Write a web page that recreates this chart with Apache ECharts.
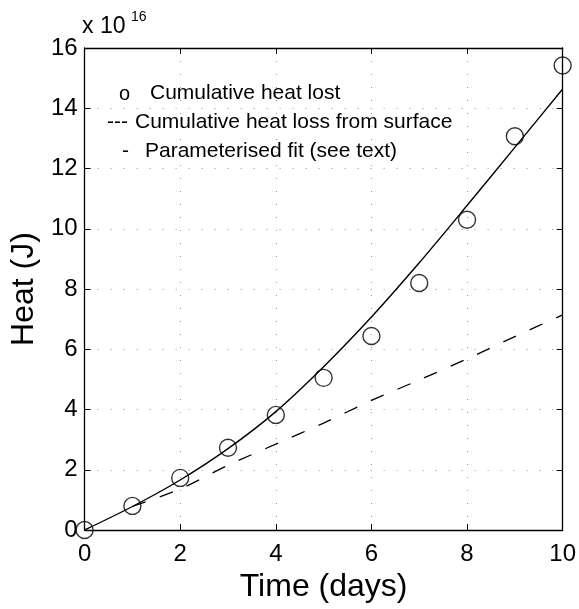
<!DOCTYPE html>
<html>
<head>
<meta charset="utf-8">
<script src="https://cdn.jsdelivr.net/npm/echarts@6/dist/echarts.min.js"></script>
<style>html,body{margin:0;padding:0;background:#fff;}#c{width:579px;height:609px;}</style>
</head>
<body>
<div id="c"></div>
<script>
// Data (heat in units of 1e16 J)
var days = [0, 1, 2, 3, 4, 5, 6, 7, 8, 9, 10];
var heatLost = [0.0, 0.8, 1.73, 2.73, 3.82, 5.05, 6.44, 8.2, 10.3, 13.07, 15.42];
var fitDays = [0, 1, 2, 3, 4, 5, 6, 7, 8, 9, 10];
var fitValues = [0.0, 0.78, 1.66, 2.7, 3.93, 5.42, 7.07, 8.87, 10.77, 12.7, 14.64];
var surfDays = [1, 2, 3, 4, 5, 6, 7, 8, 9, 10];
var surfValues = [0.78, 1.36, 2.15, 2.85, 3.55, 4.3, 4.98, 5.68, 6.42, 7.14];
var xTicks = [0, 2, 4, 6, 8, 10];
var yTicks = [0, 2, 4, 6, 8, 10, 12, 14, 16];
var legendMarks = ['o', '---', '-'];
var legendTexts = ['Cumulative heat lost', 'Cumulative heat loss from surface', 'Parameterised fit (see text)'];

function pairs(xs, ys) { return xs.map(function (x, i) { return [x, ys[i]]; }); }

var FONT = 'Liberation Sans, Arial, Helvetica, sans-serif';
var chart = echarts.init(document.getElementById('c'), null, { renderer: 'canvas' });
var grid = { left: 82, right: 13, top: 48, bottom: 79, containLabel: false };

var tickStyle = { show: true, inside: true, length: 6, lineStyle: { color: '#000', width: 1 } };
var gridStyle = { show: true, lineStyle: { color: '#999', width: 1, type: [1, 12] } };

function txt(x, y, s, size) {
  return { type: 'text', x: x, y: y,
    style: { text: s, fontSize: size, fontFamily: FONT, fill: '#000', verticalAlign: 'middle', align: 'left' } };
}

chart.setOption({
  animation: false,
  backgroundColor: '#fff',
  grid: grid,
  xAxis: [{
    type: 'value', min: xTicks[0], max: xTicks[xTicks.length - 1], interval: 2,
    position: 'bottom',
    axisLine: { show: true, onZero: false, lineStyle: { color: '#000', width: 1.3 } },
    axisTick: tickStyle,
    splitLine: gridStyle,
    axisLabel: { color: '#000', fontSize: 24, fontFamily: FONT, margin: 12 },
    name: 'Time (days)', nameLocation: 'middle', nameGap: 38,
    nameTextStyle: { color: '#000', fontSize: 32, fontFamily: FONT }
  }, {
    type: 'value', min: 0, max: 10, interval: 2, position: 'top',
    axisLine: { show: true, onZero: false, lineStyle: { color: '#000', width: 1.3 } },
    axisTick: tickStyle, axisLabel: { show: false }, splitLine: { show: false }
  }],
  yAxis: [{
    type: 'value', min: yTicks[0], max: yTicks[yTicks.length - 1], interval: 2,
    position: 'left',
    axisLine: { show: true, onZero: false, lineStyle: { color: '#000', width: 1.3 } },
    axisTick: tickStyle,
    splitLine: gridStyle,
    axisLabel: { color: '#000', fontSize: 24, fontFamily: FONT, margin: 7 },
    name: 'Heat (J)', nameLocation: 'middle', nameGap: 44, nameRotate: 90,
    nameTextStyle: { color: '#000', fontSize: 32, fontFamily: FONT }
  }, {
    type: 'value', min: 0, max: 16, interval: 2, position: 'right',
    axisLine: { show: true, onZero: false, lineStyle: { color: '#000', width: 1.3 } },
    axisTick: tickStyle, axisLabel: { show: false }, splitLine: { show: false }
  }],
  graphic: [
    txt(82, 27, 'x 10', 23),
    txt(131, 17, '16', 14),
    txt(119, 94, legendMarks[0], 20),
    txt(150, 93, legendTexts[0], 21),
    txt(107, 122, legendMarks[1], 21),
    txt(135, 122, legendTexts[1], 21),
    txt(122, 151, legendMarks[2], 21),
    txt(145, 151, legendTexts[2], 21)
  ],
  series: [{
    type: 'line', data: pairs(fitDays, fitValues), smooth: 0.3,
    showSymbol: false, lineStyle: { color: '#000', width: 1.4 }, z: 3
  }, {
    type: 'line', data: pairs(surfDays, surfValues), smooth: 0.3,
    showSymbol: false, lineStyle: { color: '#000', width: 1.3, type: [14, 15] }, z: 3
  }, {
    type: 'scatter', data: pairs(days, heatLost), symbol: 'circle', symbolSize: 17,
    itemStyle: { color: 'rgba(0,0,0,0)', borderColor: '#000', borderWidth: 1.4 }, z: 4
  }]
});
</script>
</body>
</html>
